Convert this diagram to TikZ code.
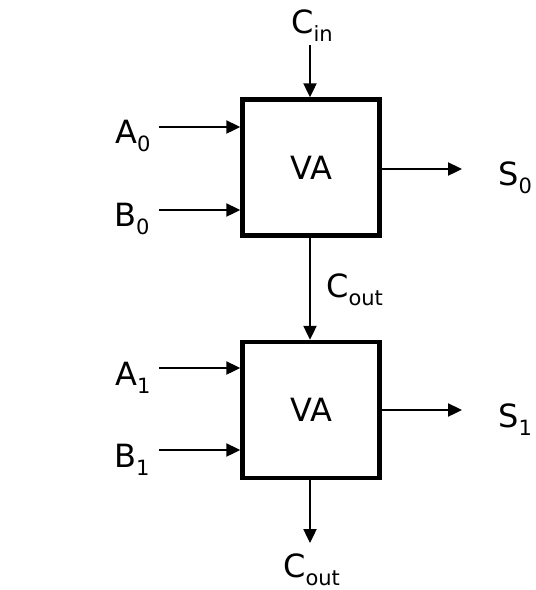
\documentclass[tikz,border=0pt]{standalone}
\usepackage{fontspec}
\setmainfont{DejaVu Sans}
\usetikzlibrary{arrows.meta}
\newcommand{\sbs}[1]{\raisebox{-8pt}{\fontsize{21}{24}\selectfont #1}}
\begin{document}
\begin{tikzpicture}[x=1pt,y=-1pt,
  vabox/.style={draw,line width=4.5pt,minimum width=137pt,minimum height=136pt,inner sep=0pt,font=\fontsize{32}{38}\selectfont},
  lbl/.style={inner sep=0pt,anchor=base west,font=\fontsize{32}{38}\selectfont},
  sig/.style={line width=2.4pt,-{Triangle[length=14pt,width=13pt]}}]
\useasboundingbox (0,0) rectangle (536,590);
\node[vabox] (va0) at (311,167.5) {VA};
\node[vabox] (va1) at (311,410) {VA};
% labels
\node[lbl] (cin) at (291,33) {C\sbs{in}};
\node[lbl] (a0) at (115,143) {A\sbs{0}};
\node[lbl] (b0) at (114,226) {B\sbs{0}};
\node[lbl] (s0) at (498,185) {S\sbs{0}};
\node[lbl] (cmid) at (326,297) {C\sbs{out}};
\node[lbl] (a1) at (115,385) {A\sbs{1}};
\node[lbl] (b1) at (114,467) {B\sbs{1}};
\node[lbl] (s1) at (498,427) {S\sbs{1}};
\node[lbl] (cout) at (283,577) {C\sbs{out}};
% coordinates
\coordinate (cinS) at (310,45);
\coordinate (a0S) at (159,127);
\coordinate (b0S) at (159,210);
\coordinate (s0E) at (462,169);
\coordinate (a1S) at (159,368);
\coordinate (b1S) at (159,450);
\coordinate (s1E) at (462,410);
\coordinate (coutE) at (310,543);
% connectors
\draw[sig] (cinS) -- (cinS |- va0.north);
\draw[sig] (a0S) -- (a0S -| va0.west);
\draw[sig] (b0S) -- (b0S -| va0.west);
\draw[sig] (va0.east |- s0E) -- (s0E);
\draw[sig] (va0.south -| cinS) -- (cinS |- va1.north);
\draw[sig] (a1S) -- (a1S -| va1.west);
\draw[sig] (b1S) -- (b1S -| va1.west);
\draw[sig] (va1.east |- s1E) -- (s1E);
\draw[sig] (va1.south -| coutE) -- (coutE);
\end{tikzpicture}
\end{document}
